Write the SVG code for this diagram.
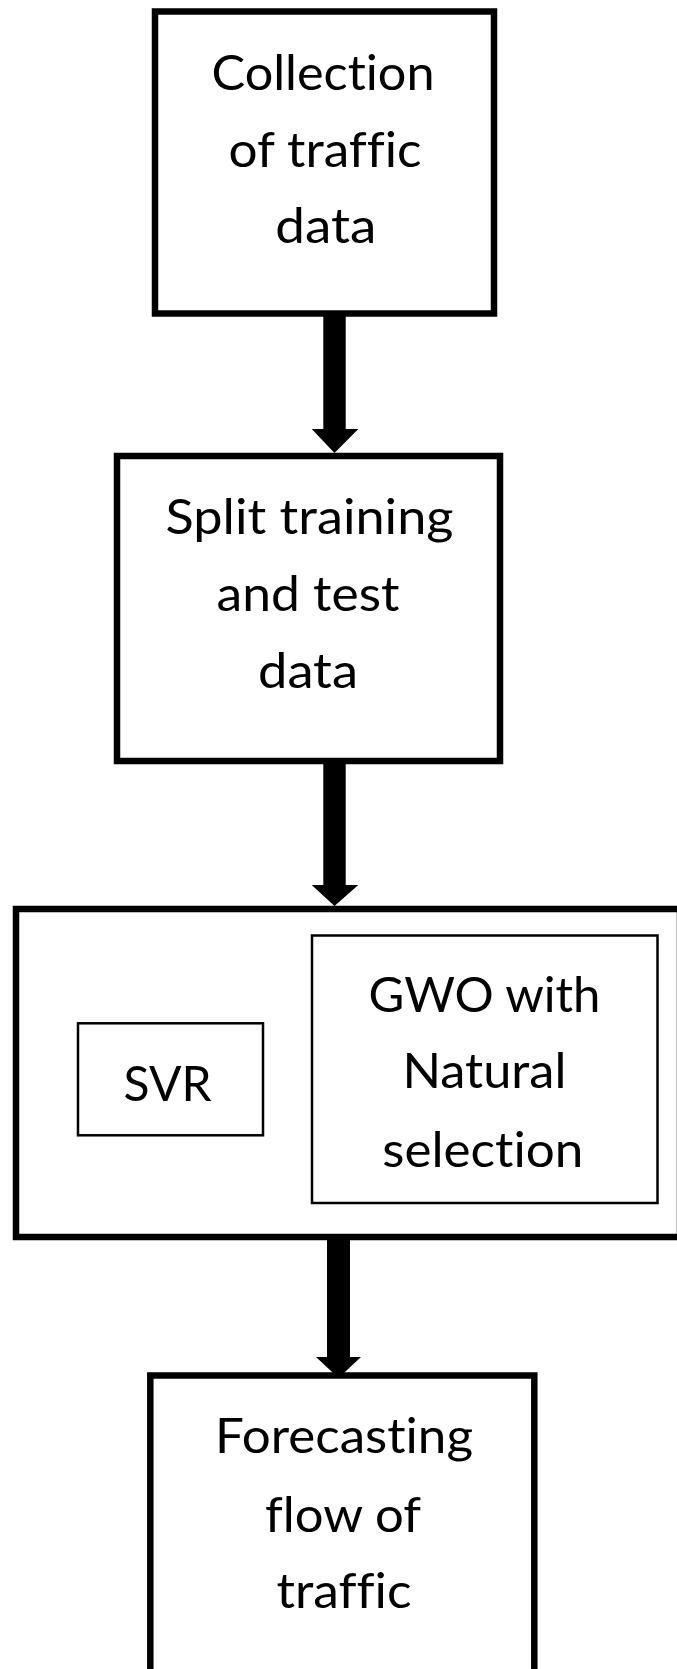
<svg xmlns="http://www.w3.org/2000/svg" width="677" height="1669" viewBox="0 0 677 1669">
  <style>
    .box { fill: #ffffff; stroke: #000000; stroke-width: 6.5; }
    .inner { fill: #ffffff; stroke: #000000; stroke-width: 2.5; }
    .label { font-family: Lato, "Open Sans", "Liberation Sans", sans-serif; font-size: 49px; fill: #000000; text-anchor: middle; font-variant-ligatures: none; font-feature-settings: "liga" 0, "clig" 0; }
    .arrow { fill: #000000; stroke: none; }
  </style>
  <rect x="0" y="0" width="677" height="1669" fill="#ffffff"/>

  <!-- flow connectors: thick block arrows -->
  <g id="connectors">
    <polygon class="arrow" points="323.3,316 345.7,316 345.7,429 358.3,429 334.5,453 311.7,429 323.3,429"/>
    <polygon class="arrow" points="323.3,764 345.7,764 345.7,885 358.3,885 334.5,906 311.7,885 323.3,885"/>
    <polygon class="arrow" points="327,1240 350,1240 350,1357 361,1357 338.5,1378 316,1357 327,1357"/>
  </g>

  <g id="collection">
    <rect class="box" x="155" y="11.5" width="339" height="302"/>
    <text class="label" x="323" y="90" textLength="223" lengthAdjust="spacingAndGlyphs">Collection</text>
    <text class="label" x="325" y="166.7" textLength="193" lengthAdjust="spacingAndGlyphs">of traffic</text>
    <text class="label" x="325.8" y="243.3" textLength="101" lengthAdjust="spacingAndGlyphs">data</text>
  </g>

  <g id="split">
    <rect class="box" x="117" y="456" width="383" height="305"/>
    <text class="label" x="309.5" y="534" textLength="288" lengthAdjust="spacingAndGlyphs">Split training</text>
    <text class="label" x="308" y="611" textLength="183" lengthAdjust="spacingAndGlyphs">and test</text>
    <text class="label" x="308" y="688" textLength="100" lengthAdjust="spacingAndGlyphs">data</text>
  </g>

  <g id="model">
    <rect class="box" x="16" y="909" width="664" height="328"/>
    <g id="svr">
      <rect class="inner" x="78" y="1023.3" width="185" height="112"/>
      <text class="label" x="167.5" y="1100.7" textLength="88" lengthAdjust="spacingAndGlyphs">SVR</text>
    </g>
    <g id="gwo">
      <rect class="inner" x="312" y="935.5" width="345.5" height="267.5"/>
      <text class="label" x="484.5" y="1011.7" textLength="232" lengthAdjust="spacingAndGlyphs">GWO with</text>
      <text class="label" x="484.4" y="1088.3" textLength="164" lengthAdjust="spacingAndGlyphs">Natural</text>
      <text class="label" x="482.8" y="1166.7" textLength="201" lengthAdjust="spacingAndGlyphs">selection</text>
    </g>
  </g>

  <g id="forecast">
    <rect class="box" x="150.3" y="1375.5" width="384" height="310"/>
    <text class="label" x="344" y="1453.3" textLength="258" lengthAdjust="spacingAndGlyphs">Forecasting</text>
    <text class="label" x="343" y="1531.7" textLength="156" lengthAdjust="spacingAndGlyphs">flow of</text>
    <text class="label" x="344" y="1608.3" textLength="135" lengthAdjust="spacingAndGlyphs">traffic</text>
  </g>
</svg>
